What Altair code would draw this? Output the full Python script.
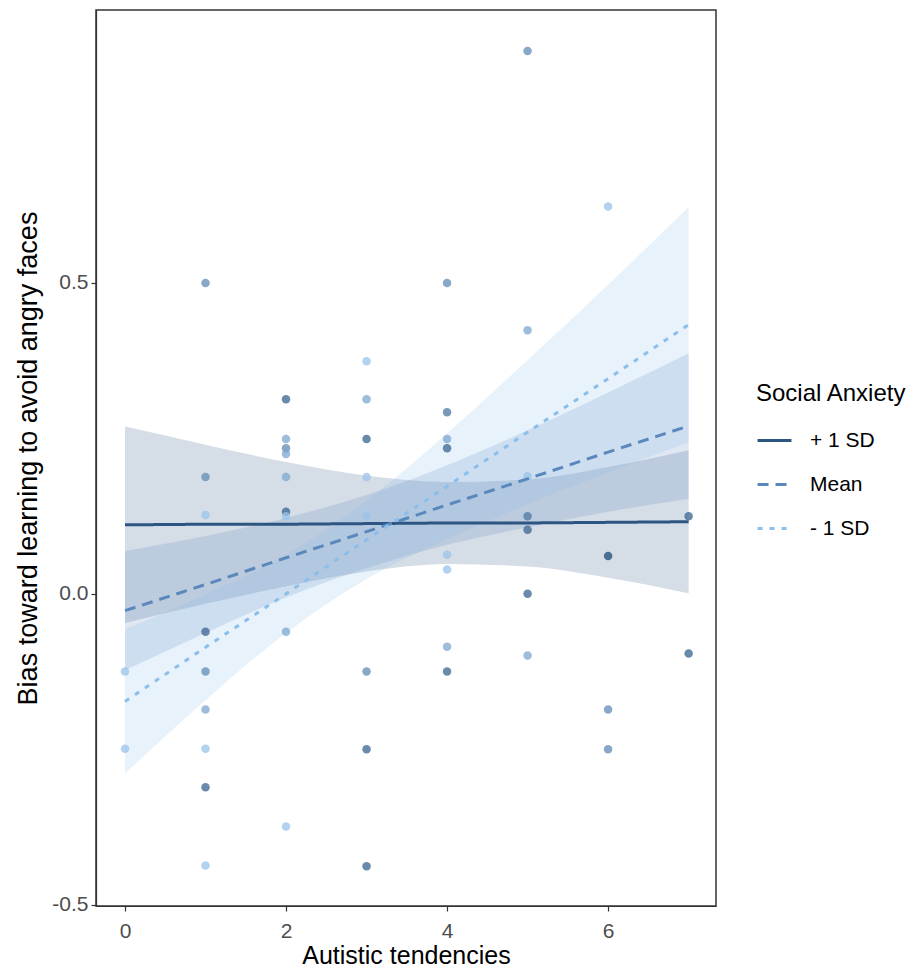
import altair as alt
import pandas as pd

# ---- data ----
groups = ["+ 1 SD", "Mean", "- 1 SD"]
line_colors = ["#2d5582", "#5a88bc", "#8cbeeb"]

x_grid = [0, 1, 2, 3, 4, 5, 6, 7]
fit_plus = [0.111, 0.112, 0.112, 0.113, 0.114, 0.114, 0.115, 0.116]
low_plus = [-0.047, -0.016, 0.012, 0.036, 0.048, 0.044, 0.026, 0.001]
up_plus = [0.269, 0.240, 0.212, 0.190, 0.180, 0.184, 0.204, 0.231]

fit_mean = [-0.027, 0.015, 0.058, 0.100, 0.143, 0.185, 0.228, 0.270]
low_mean = [-0.123, -0.063, -0.006, 0.041, 0.079, 0.107, 0.132, 0.153]
up_mean = [0.069, 0.093, 0.122, 0.159, 0.207, 0.263, 0.324, 0.387]

fit_minus = [-0.173, -0.086, 0.000, 0.087, 0.173, 0.260, 0.346, 0.433]
low_minus = [-0.289, -0.171, -0.063, 0.024, 0.088, 0.144, 0.195, 0.244]
up_minus = [-0.057, -0.001, 0.063, 0.150, 0.258, 0.376, 0.497, 0.622]

pt_x = [0, 0,
        1, 1, 1, 1, 1, 1, 1, 1, 1,
        2, 2, 2, 2, 2, 2, 2, 2, 2,
        3, 3, 3, 3, 3, 3, 3, 3,
        4, 4, 4, 4, 4, 4, 4, 4,
        5, 5, 5, 5, 5, 5, 5,
        6, 6, 6, 6,
        7, 7]
pt_y = [-0.125, -0.249,
        0.500, 0.188, 0.127, -0.061, -0.125, -0.186, -0.249, -0.311, -0.437,
        0.313, 0.249, 0.234, 0.225, 0.188, 0.132, 0.125, -0.061, -0.374,
        0.374, 0.313, 0.249, 0.188, 0.125, -0.125, -0.250, -0.438,
        0.500, 0.292, 0.249, 0.234, 0.063, 0.039, -0.085, -0.125,
        0.873, 0.424, 0.189, 0.125, 0.103, 0.000, -0.099,
        0.623, 0.061, -0.186, -0.250,
        0.125, -0.096]
pt_anx = [0.1, 0.1,
          0.5, 0.5, 0.1, 0.8, 0.5, 0.3, 0.1, 0.8, 0.1,
          0.8, 0.3, 0.5, 0.3, 0.3, 0.8, 0.1, 0.3, 0.1,
          0.1, 0.3, 0.8, 0.1, 0.1, 0.5, 0.8, 0.8,
          0.5, 0.65, 0.3, 0.8, 0.1, 0.1, 0.3, 0.8,
          0.5, 0.3, 0.1, 0.65, 0.8, 0.8, 0.3,
          0.1, 1.0, 0.5, 0.5,
          0.8, 0.8]

# ---- tables ----
rows = []
for g, fit, lo, up in zip(groups, [fit_plus, fit_mean, fit_minus],
                          [low_plus, low_mean, low_minus],
                          [up_plus, up_mean, up_minus]):
    for xv, f, l, u in zip(x_grid, fit, lo, up):
        rows.append({"group": g, "x": xv, "fit": f, "lower": l, "upper": u})
lines_df = pd.DataFrame(rows)
pts_df = pd.DataFrame({"x": pt_x, "y": pt_y, "anx": pt_anx})

xscale = alt.Scale(domain=[-0.36, 7.34], nice=False, zero=False)
yscale = alt.Scale(domain=[-0.502, 0.939], nice=False, zero=False)

xaxis = alt.Axis(title="Autistic tendencies", values=[0, 2, 4, 6], format="d",
                 labelPadding=9, titlePadding=2, titleFontSize=25)
yaxis = alt.Axis(title="Bias toward learning to avoid angry faces",
                 values=[-0.5, 0.0, 0.5], format=".1f",
                 labelExpr="replace(datum.label, '\u2212', '-')",
                 labelPadding=3, titlePadding=9)

band_layers = []
for i, (g, col) in enumerate(zip(groups, line_colors)):
    if i == 0:
        xenc = alt.X("x:Q", scale=xscale, axis=xaxis)
        yenc = alt.Y("lower:Q", scale=yscale, axis=yaxis)
    else:
        xenc = alt.X("x:Q", scale=xscale)
        yenc = alt.Y("lower:Q", scale=yscale)
    band_layers.append(
        alt.Chart(lines_df).transform_filter(alt.datum.group == g)
        .mark_area(opacity=0.2, interpolate="monotone", color=col).encode(
            x=xenc, y=yenc, y2="upper:Q",
        )
    )

points = alt.Chart(pts_df).mark_circle(size=72, opacity=0.75).encode(
    x=alt.X("x:Q", scale=xscale),
    y=alt.Y("y:Q", scale=yscale),
    fill=alt.Fill("anx:Q", scale=alt.Scale(domain=[0, 1], range=["#a9d2f7", "#1a4a78"]),
                  legend=None),
)

leg = alt.Legend(title="Social Anxiety", orient="none", legendX=660, legendY=372)

lines = alt.Chart(lines_df).mark_line(strokeWidth=3, strokeCap="butt").encode(
    x=alt.X("x:Q", scale=xscale),
    y=alt.Y("fit:Q", scale=yscale),
    color=alt.Color("group:N", scale=alt.Scale(domain=groups, range=line_colors),
                    legend=leg),
    strokeDash=alt.StrokeDash("group:N",
                              scale=alt.Scale(domain=groups, range=[[1, 0], [11, 7], [5, 7]]),
                              legend=leg),
)

chart = alt.layer(*band_layers, points, lines).properties(
    width=620, height=896,
    padding={"left": 6, "top": 2, "right": 0, "bottom": 2},
).configure(
    font="Liberation Sans",
).configure_view(
    stroke="#333333", strokeWidth=1.5,
).configure_axis(
    grid=False,
    domainColor="#333333", domainWidth=1.2,
    tickColor="#333333", tickSize=5, tickWidth=1.2,
    labelColor="#4d4d4d", labelFontSize=21, labelFont="Liberation Sans",
    titleColor="#000000", titleFontSize=27, titleFontWeight="normal",
    titleFont="Liberation Sans",
).configure_legend(
    titleFontSize=24, titleFontWeight="normal", titleColor="#000000",
    labelFontSize=21, labelColor="#000000",
    symbolType="stroke", symbolSize=1150, symbolStrokeWidth=3,
    rowPadding=15, titlePadding=16, labelOffset=17,
)

chart.save("out.html", embed_options={"renderer": "svg", "actions": False})
